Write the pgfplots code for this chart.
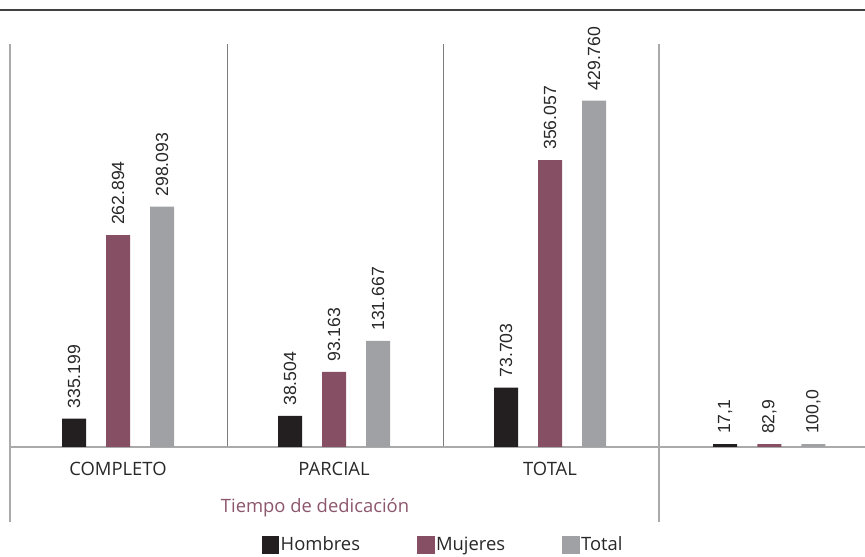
\documentclass[border=0pt]{standalone}
\usepackage{pgfplots}
\pgfplotsset{compat=1.18}
\usepackage{pgfplotstable}
\usepackage{fontspec}
\setmainfont{Open Sans}
\newfontfamily\labfont{Liberation Sans}
\definecolor{hom}{RGB}{35,31,32}
\definecolor{muj}{RGB}{135,79,99}
\definecolor{tot}{RGB}{160,161,165}
\definecolor{ttl}{RGB}{140,86,108}
\definecolor{sepl}{RGB}{170,170,170}
\definecolor{sepd}{RGB}{125,125,125}
\definecolor{txt}{RGB}{40,40,40}

\pgfplotstableread{
x y lab
0 35199 335.199
1 38504 38.504
2 73703 73.703
3.015 3500 17,1
}\hombres
\pgfplotstableread{
x y lab
0 262894 262.894
1 93163 93.163
2 356057 356.057
3.015 3500 82,9
}\mujeres
\pgfplotstableread{
x y lab
0 298093 298.093
1 131667 131.667
2 429760 429.760
3.015 3500 100,0
}\total

\begin{document}
\begin{tikzpicture}
\path[use as bounding box] (0pt,0pt) rectangle (648.75pt,417.75pt);
\draw[color=black!75, line width=1.2pt] (0pt,410.25pt) -- (648.75pt,410.25pt);
\draw[sepl, line width=1.1pt] (7.5pt,384.75pt) -- (7.5pt,26.25pt);
\draw[sepl, line width=1.1pt] (494.25pt,384.75pt) -- (494.25pt,26.25pt);
\draw[sepd, line width=0.7pt] (170.25pt,384.75pt) -- (170.25pt,82.5pt);
\draw[sepd, line width=0.7pt] (332.25pt,384.75pt) -- (332.25pt,82.5pt);
\draw[sepl, line width=1.1pt] (7.5pt,82.5pt) -- (648.75pt,82.5pt);
\node[text=ttl, font=\fontsize{13.8}{16}\selectfont] at (236.25pt,36.75pt) {Tiempo de dedicación};
\begin{axis}[
  at={(7.5pt,82.5pt)}, anchor=south west,
  scale only axis, width=641.25pt, height=302.25pt,
  xmin=-0.5, xmax=3.4583, ymin=0, ymax=500000,
  enlargelimits=false, clip=false,
  ybar, bar width=18pt,
  axis line style={draw=none},
  ytick=\empty,
  xtick={0,1,2}, xticklabels={COMPLETO,PARCIAL,TOTAL},
  major tick length=0pt, xtick style={draw=none},
  xticklabel style={font=\fontsize{13.8}{16}\selectfont, text=txt, anchor=north, inner sep=0pt, yshift=-11pt},
  point meta=explicit symbolic,
  nodes near coords,
  every node near coord/.append style={rotate=90, anchor=west, font=\labfont\fontsize{13.2}{15}\selectfont, text=txt, inner xsep=7.5pt, inner ysep=0pt},
  legend columns=3,
  legend style={draw=none, fill=none, at={(0.5064,-0.243)}, anchor=center,
    font=\fontsize{13.8}{16}\selectfont, text=txt,
    nodes={inner sep=1pt},
    /tikz/every even column/.append style={column sep=42pt}},
  legend image code/.code={\fill[#1] (0pt,-6.5pt) rectangle (13pt,6.5pt);},
]
\addplot[fill=hom, draw=none, bar shift=-33pt] table[x=x, y=y, meta=lab] {\hombres};
\addlegendentry{Hombres}
\addplot[fill=muj, draw=none, bar shift=0pt] table[x=x, y=y, meta=lab] {\mujeres};
\addlegendentry{Mujeres}
\addplot[fill=tot, draw=none, bar shift=33pt] table[x=x, y=y, meta=lab] {\total};
\addlegendentry{Total}
\end{axis}
\end{tikzpicture}
\end{document}
